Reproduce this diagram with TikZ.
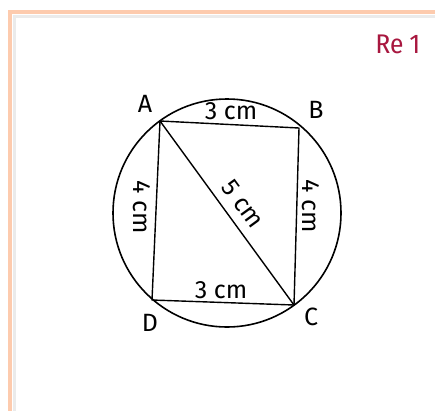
\documentclass[tikz,border=0pt]{standalone}
\usepackage{fontspec}
\setmainfont{Fira Sans}
\newfontfamily\condfont{Fira Sans Condensed}
\definecolor{peach}{HTML}{FDCBAE}
\definecolor{crim}{HTML}{A8173F}
\begin{document}
\begin{tikzpicture}[x=1pt,y=-1pt,
  lbl/.style={font=\fontsize{25}{27}\selectfont, inner sep=0pt},
  edge/.style={line width=1.4pt, line join=round}]
\useasboundingbox (0,0) rectangle (435,410);
\fill[white] (0,0) rectangle (435,410);
% frame
\draw[black!8, line width=3pt] (14,420) -- (14,16) -- (440,16);
\draw[peach, line width=4pt] (10,420) -- (10,12) -- (440,12);
\node[font=\condfont\fontsize{27}{29}\selectfont, text=crim, inner sep=0pt] (re) at (398,44) {Re 1};
% points
\coordinate (A) at (160,121);
\coordinate (B) at (299,128);
\coordinate (C) at (294,305);
\coordinate (D) at (152,300);
\coordinate (O) at (227,213);
\draw[line width=1.6pt] (O) circle (114);
\draw[edge] (A) -- (B) -- (C) -- (D) -- cycle;
\draw[edge] (A) -- (C);
\node[lbl] (la) at (145,104) {A};
\node[lbl] (lb) at (316,110) {B};
\node[lbl] (lc) at (311,317) {C};
\node[lbl] (ld) at (150,323) {D};
\node[lbl] (ab) at (231,111) {3 cm};
\node[lbl] (dc) at (221,290) {3 cm};
\node[lbl, rotate=-90] (ad) at (142,207) {4 cm};
\node[lbl, rotate=-90] (bc) at (311,206) {4 cm};
\node[lbl, rotate=-54] (ac) at (243,204) {5 cm};
\end{tikzpicture}
\end{document}
